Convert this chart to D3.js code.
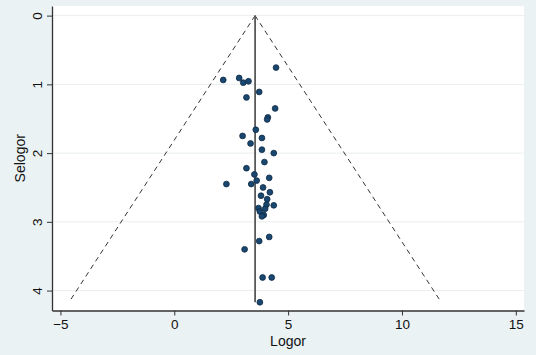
<!DOCTYPE html>
<html>
<head>
<meta charset="utf-8">
<script src="https://cdn.jsdelivr.net/npm/d3@7"></script>
<style>
  body { margin: 0; background: #eaf2f3; }
  text { font-family: "Liberation Sans", Arial, sans-serif; }
</style>
</head>
<body>
<svg></svg>
<script>
var width = 536,
    height = 355;

// study effect sizes (log odds ratio) and their standard errors
var logor = [4.47, 2.15, 2.85, 3.03, 3.26, 3.73, 3.17, 4.43, 4.11, 4.08,
             3.58, 3.00, 3.85, 3.35, 3.85, 4.37, 3.96, 3.17, 3.52, 4.17,
             2.29, 3.38, 3.62, 3.90, 4.20, 3.81, 4.08, 4.37, 4.05, 3.70,
             3.99, 3.76, 3.93, 3.85, 4.17, 3.73, 3.09, 3.88, 4.28, 3.76];
var selogor = [0.756, 0.936, 0.907, 0.975, 0.955, 1.11, 1.19, 1.35, 1.48, 1.51,
               1.66, 1.75, 1.78, 1.86, 1.95, 2.00, 2.13, 2.22, 2.31, 2.36,
               2.45, 2.45, 2.40, 2.50, 2.57, 2.62, 2.67, 2.76, 2.75, 2.80,
               2.81, 2.85, 2.90, 2.92, 3.22, 3.28, 3.40, 3.81, 3.81, 4.17];

var pooled = 3.55;
var xTicks = [-5, 0, 5, 10, 15];
var yTicks = [0, 1, 2, 3, 4];

var points = logor.map(function (d, i) {
    return { x: d, y: selogor[i] };
});
var maxSe = d3.max(selogor);

var svg = d3.select("svg")
    .attr("width", width)
    .attr("height", height)
    .style("background-color", "#eaf2f3");

var xScale = d3.scaleLinear().domain([-5.37, 15.36]).range([52, 524]);
var yScale = d3.scaleLinear().domain([-0.14, 4.29]).range([6, 310.5]);

// plot region
svg.append("rect")
    .attr("x", xScale.range()[0])
    .attr("y", yScale.range()[0])
    .attr("width", xScale.range()[1] - xScale.range()[0])
    .attr("height", yScale.range()[1] - yScale.range()[0])
    .attr("fill", "white");

// horizontal grid
svg.append("g")
    .selectAll("line")
    .data(yTicks)
    .join("line")
    .attr("x1", xScale.range()[0])
    .attr("x2", xScale.range()[1])
    .attr("y1", function (d) { return yScale(d); })
    .attr("y2", function (d) { return yScale(d); })
    .attr("stroke", "#eaeef0")
    .attr("stroke-width", 1);

// pseudo 95% confidence limits
var lineMaker = d3.line()
    .x(function (d) { return xScale(d[0]); })
    .y(function (d) { return yScale(d[1]); });

[-1, 1].forEach(function (s) {
    svg.append("path")
        .attr("d", lineMaker([[pooled, 0], [pooled + s * 1.96 * maxSe, maxSe]]))
        .attr("fill", "none")
        .attr("stroke", "#333")
        .attr("stroke-width", 1)
        .attr("stroke-dasharray", "5,4");
});

// pooled estimate
svg.append("path")
    .attr("d", lineMaker([[pooled, 0], [pooled, maxSe]]))
    .attr("stroke", "#5a5a5a")
    .attr("stroke-width", 1.8);

// studies
svg.append("g")
    .selectAll("circle")
    .data(points)
    .join("circle")
    .attr("cx", function (d) { return xScale(d.x); })
    .attr("cy", function (d) { return yScale(d.y); })
    .attr("r", 2.9)
    .attr("fill", "#1a476f")
    .attr("stroke", "#0e2a45")
    .attr("stroke-width", 0.8);

// axes
var xAxis = svg.append("g")
    .attr("transform", "translate(0," + yScale.range()[1] + ")")
    .call(d3.axisBottom(xScale).tickValues(xTicks).tickFormat(d3.format("d"))
        .tickSize(5).tickPadding(4).tickSizeOuter(0));

var yAxis = svg.append("g")
    .attr("transform", "translate(" + xScale.range()[0] + ",0)")
    .call(d3.axisLeft(yScale).tickValues(yTicks).tickFormat(d3.format("d"))
        .tickSize(5).tickSizeOuter(0));

[xAxis, yAxis].forEach(function (a) {
    a.select(".domain").attr("stroke", "#333").attr("stroke-width", 1.3);
    a.selectAll(".tick line").attr("stroke", "#333");
    a.selectAll("text").attr("fill", "#111").style("font-size", "13.5px")
        .style("font-family", "'Liberation Sans', Arial, sans-serif");
});

yAxis.selectAll(".tick text")
    .attr("x", null).attr("dy", null)
    .attr("text-anchor", "middle")
    .attr("transform", "translate(-10,0) rotate(-90)");

// axis titles
svg.append("text")
    .attr("x", (xScale.range()[0] + xScale.range()[1]) / 2)
    .attr("y", 346)
    .attr("text-anchor", "middle")
    .style("font-size", "14px")
    .attr("fill", "#111")
    .text("Logor");

svg.append("text")
    .attr("transform", "translate(25," + (yScale.range()[0] + yScale.range()[1]) / 2 + ") rotate(-90)")
    .attr("text-anchor", "middle")
    .style("font-size", "14px")
    .attr("fill", "#111")
    .text("Selogor");
</script>
</body>
</html>
